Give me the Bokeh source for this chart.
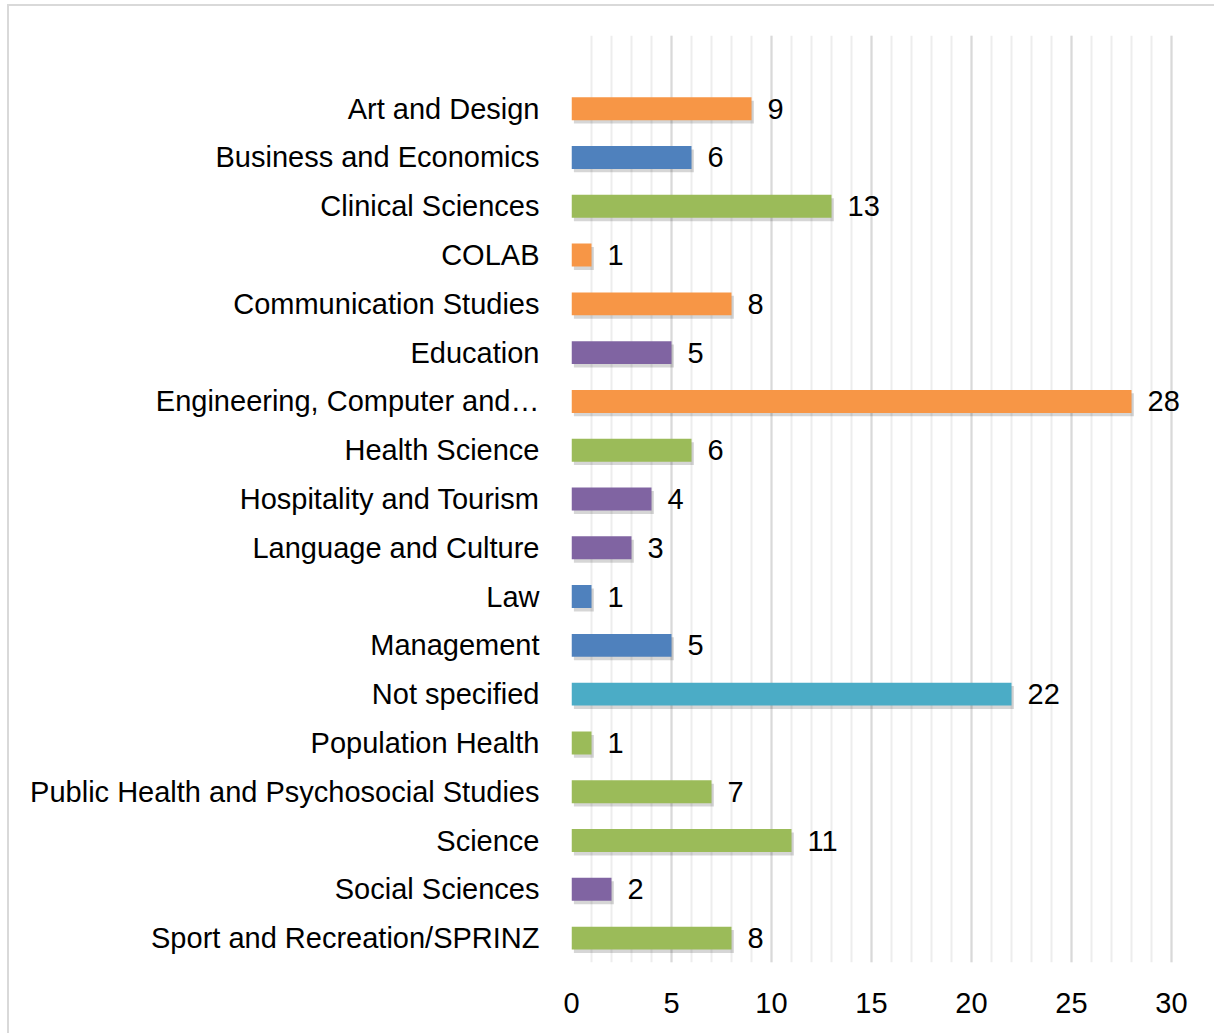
from bokeh.plotting import figure
from bokeh.models import Range1d, FixedTicker, ColumnDataSource, InlineStyleSheet
from bokeh.embed import file_html
from bokeh.resources import INLINE
from bokeh.core.properties import value

categories = [
    "Art and Design", "Business and Economics", "Clinical Sciences", "COLAB",
    "Communication Studies", "Education", "Engineering, Computer and\u2026",
    "Health Science", "Hospitality and Tourism", "Language and Culture", "Law",
    "Management", "Not specified", "Population Health",
    "Public Health and Psychosocial Studies", "Science", "Social Sciences",
    "Sport and Recreation/SPRINZ",
]
counts = [9, 6, 13, 1, 8, 5, 28, 6, 4, 3, 1, 5, 22, 1, 7, 11, 2, 8]
groups = ["orange", "blue", "green", "orange", "orange", "purple", "orange",
          "green", "purple", "purple", "blue", "blue", "teal", "green",
          "green", "green", "purple", "green"]
palette = {"orange": "#F79646", "blue": "#4F81BD", "green": "#9BBB59",
           "purple": "#8064A2", "teal": "#4BACC6"}
x_ticks = [0, 5, 10, 15, 20, 25, 30]
x_minor = list(range(0, 31))

idx = list(range(len(categories)))
src = ColumnDataSource(dict(
    y=idx, v=counts, color=[palette[g] for g in groups],
    lab=[str(c) for c in counts],
    ys=[i + 0.07 for i in idx], vs=[c + 0.12 for c in counts],
))

FONT = "Liberation Sans"
p = figure(width=1206, height=1025, output_backend="svg", toolbar_location=None,
           x_range=Range1d(0, 31), y_range=Range1d(17.5, -1.5),
           min_border_left=571, min_border_top=35, min_border_bottom=63,
           min_border_right=15)
p.outline_line_color = None
p.stylesheets = [InlineStyleSheet(css=(
    ":host { position: relative; }"
    ":host::after { content: ''; position: absolute; left: 7px; top: 4px;"
    " right: -14px; bottom: -14px; border: 2px solid #d9d9d9;"
    " pointer-events: none; box-sizing: border-box; }"
))]

# soft shadows
p.hbar(y="ys", right="vs", left=0.12, height=0.47, source=src,
       fill_color="#000000", fill_alpha=0.16, line_color=None)
p.hbar(y="y", right="v", left=0, height=0.47, source=src,
       fill_color="color", line_color=None)
p.text(x="v", y="y", text="lab", source=src, x_offset=16,
       text_baseline="middle", text_align="left", text_font=value(FONT),
       text_font_size="29px", text_color="#000000")

p.xaxis.ticker = FixedTicker(ticks=x_ticks, minor_ticks=x_minor)
p.xgrid.ticker = p.xaxis.ticker
p.xgrid.grid_line_color = "#d9d9d9"
p.xgrid.grid_line_width = 2
p.xgrid.minor_grid_line_color = "#ededed"
p.xgrid.minor_grid_line_width = 2
p.ygrid.grid_line_color = None

p.xaxis.axis_line_color = None
p.xaxis.major_tick_line_color = None
p.xaxis.minor_tick_line_color = None
p.xaxis.major_tick_out = 0
p.xaxis.minor_tick_out = 0
p.xaxis.major_label_standoff = 30
p.xaxis.major_label_text_font = FONT
p.xaxis.major_label_text_font_size = "29px"
p.xaxis.major_label_text_color = "#000000"

p.yaxis.ticker = FixedTicker(ticks=idx)
p.yaxis.major_label_overrides = {i: c for i, c in zip(idx, categories)}
p.yaxis.axis_line_color = None
p.yaxis.major_tick_line_color = None
p.yaxis.minor_tick_line_color = None
p.yaxis.major_tick_out = 0
p.yaxis.minor_tick_out = 0
p.yaxis.major_label_standoff = 32
p.yaxis.major_label_text_font = FONT
p.yaxis.major_label_text_font_size = "29px"
p.yaxis.major_label_text_color = "#000000"

open("out.html", "w").write(file_html(p, INLINE))
